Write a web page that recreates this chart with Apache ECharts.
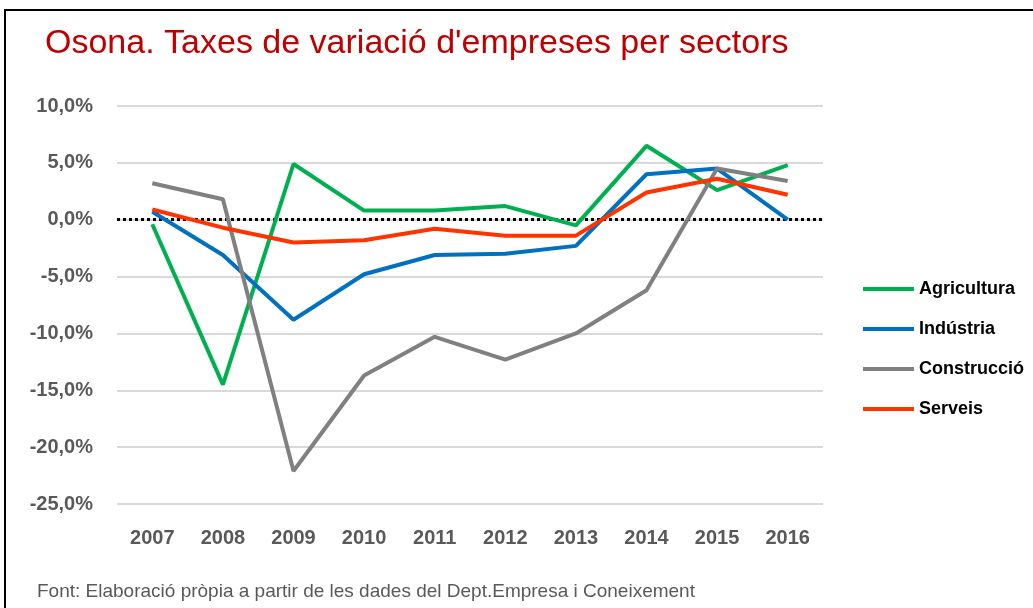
<!DOCTYPE html>
<html>
<head>
<meta charset="utf-8">
<script src="https://cdn.jsdelivr.net/npm/echarts@6/dist/echarts.min.js"></script>
<style>
  html, body { margin: 0; padding: 0; background: #ffffff; }
  #chart { width: 1033px; height: 608px; }
</style>
</head>
<body>
<div id="chart"></div>
<script>
// anys
const years = ["2007", "2008", "2009", "2010", "2011", "2012", "2013", "2014", "2015", "2016"];

// taxes de variació (%)
const agricultura = [-0.4, -14.5, 4.9, 0.8, 0.8, 1.2, -0.5, 6.5, 2.6, 4.8];
const industria = [0.7, -3.1, -8.8, -4.8, -3.1, -3.0, -2.3, 4.0, 4.5, 0.0];
const construccio = [3.2, 1.8, -22.1, -13.7, -10.3, -12.3, -10.0, -6.2, 4.5, 3.4];
const serveis = [0.9, -0.7, -2.0, -1.8, -0.8, -1.4, -1.4, 2.4, 3.6, 2.2];

const chart = echarts.init(document.getElementById("chart"));

function lineSeries(name, data, color) {
  return {
    name: name,
    type: "line",
    data: data,
    symbol: "none",
    lineStyle: { width: 4, color: color },
    itemStyle: { color: color },
  };
}

const series = [
  lineSeries("Agricultura", agricultura, "#00b050"),
  lineSeries("Indústria", industria, "#0070c0"),
  lineSeries("Construcció", construccio, "#808080"),
  lineSeries("Serveis", serveis, "#ff3300"),
];
// línia de punts a 0
series[0].markLine = {
  silent: true,
  symbol: "none",
  label: { show: false },
  lineStyle: { color: "#000000", type: [3, 3], width: 3 },
  data: [{ yAxis: 0 }],
  z: 1,
};

chart.setOption({
  backgroundColor: "#ffffff",
  animation: false,
  title: {
    text: "Osona. Taxes de variació d'empreses per sectors",
    left: 40,
    top: 22,
    textStyle: {
      fontFamily: "Liberation Sans",
      fontWeight: "normal",
      fontSize: 34,
      color: "#c00000",
    },
  },
  graphic: [
    {
      type: "rect",
      shape: { x: 5, y: 10, width: 1060, height: 640 },
      style: { fill: "none", stroke: "#000000", lineWidth: 2 },
    },
    {
      type: "text",
      left: 37,
      top: 582,
      style: {
        text: "Font: Elaboració pròpia a partir de les dades del Dept.Empresa i Coneixement",
        font: "19px 'Liberation Sans'",
        fill: "#595959",
      },
    },
  ],
  legend: {
    orient: "vertical",
    left: 858,
    top: 275,
    icon: "rect",
    itemWidth: 51,
    itemHeight: 4,
    itemGap: 22,
    textStyle: {
      fontFamily: "Liberation Sans",
      fontWeight: "bold",
      fontSize: 18,
      color: "#000000",
    },
  },
  grid: {
    left: 117,
    right: 210,
    top: 106,
    bottom: 104,
  },
  xAxis: {
    type: "category",
    data: years,
    boundaryGap: true,
    axisLine: { show: false },
    axisTick: { show: false },
    axisLabel: {
      margin: 24,
      fontFamily: "Liberation Sans",
      fontWeight: "bold",
      fontSize: 20,
      color: "#595959",
    },
  },
  yAxis: {
    type: "value",
    min: -25,
    max: 10,
    interval: 5,
    axisLine: { show: false },
    axisTick: { show: false },
    axisLabel: {
      margin: 24,
      fontFamily: "Liberation Sans",
      fontWeight: "bold",
      fontSize: 20,
      color: "#595959",
      formatter: (v) => v.toFixed(1).replace(".", ",") + "%",
    },
    splitLine: { lineStyle: { color: "#d9d9d9", width: 2 } },
  },
  series: series,
});
</script>
</body>
</html>
